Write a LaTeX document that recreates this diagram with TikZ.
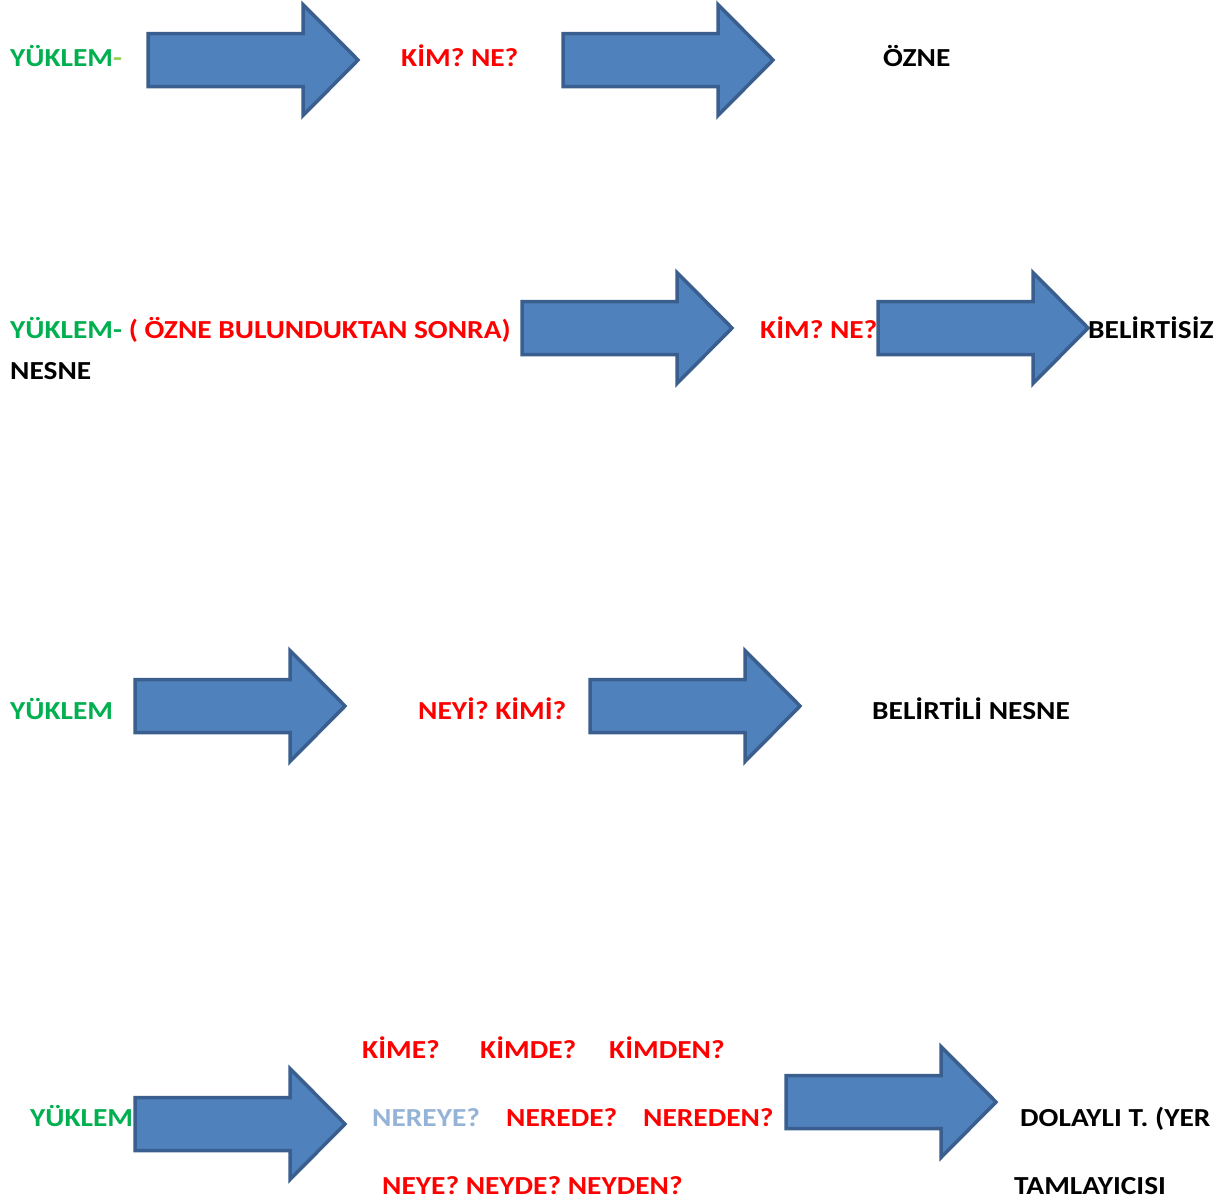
\documentclass[tikz,border=0pt]{standalone}
\usepackage{fontspec}
\setmainfont{Carlito}[FakeStretch=1.13]
\definecolor{kgreen}{HTML}{00B050}
\definecolor{lgreen}{HTML}{92D050}
\definecolor{kred}{HTML}{FF0000}
\definecolor{lblue}{HTML}{95B3D7}
\definecolor{afill}{HTML}{4F81BD}
\definecolor{aline}{HTML}{3A5F8F}
\begin{document}
\begin{tikzpicture}[x=1pt,y=-1pt,
  txt/.style={anchor=base west,inner sep=0pt,font=\fontsize{26}{30}\selectfont\bfseries},
  bigarr/.pic={\draw[fill=afill,draw=aline,line width=3.5pt,line join=miter]
    (0,-26.5) -- (155,-26.5) -- (155,-55.5) -- (210,0) -- (155,55.5) -- (155,26.5) -- (0,26.5) -- cycle;}]
\useasboundingbox (0,0) rectangle (1229,1203);
% row 1
\node[txt,text=kgreen] (y1) at (10,66.5) {YÜKLEM\textcolor{lgreen}{-}};
\pic (a1) at (148,60) {bigarr};
\node[txt,text=kred] (q1) at (401,66.5) {KİM? NE?};
\pic (a2) at (563,60) {bigarr};
\node[txt] (r1) at (883,66.5) {ÖZNE};
% row 2
\node[txt,text=kgreen] (y2) at (10,338.5) {YÜKLEM- \textcolor{kred}{( ÖZNE BULUNDUKTAN SONRA)}};
\node[txt] (n2) at (10,379.5) {NESNE};
\pic (a3) at (522,328) {bigarr};
\node[txt,text=kred] (q2) at (760,338.5) {KİM? NE?};
\pic (a4) at (878,328) {bigarr};
\node[txt] (r2) at (1088,338.5) {BELİRTİSİZ};
% row 3
\node[txt,text=kgreen] (y3) at (10,719.5) {YÜKLEM};
\pic (a5) at (135,706) {bigarr};
\node[txt,text=kred] (q3) at (418,719.5) {NEYİ? KİMİ?};
\pic (a6) at (590,706) {bigarr};
\node[txt] (r3) at (872,719.5) {BELİRTİLİ NESNE};
% row 4
\node[txt,text=kred] (k1) at (362,1058.5) {KİME?};
\node[txt,text=kred] (k2) at (480,1058.5) {KİMDE?};
\node[txt,text=kred] (k3) at (609,1058.5) {KİMDEN?};
\node[txt,text=kgreen] (y4) at (30,1126.5) {YÜKLEM};
\pic (a7) at (135,1124) {bigarr};
\node[txt,text=lblue] (n1) at (372,1126.5) {NEREYE?};
\node[txt,text=kred] (n2b) at (506,1126.5) {NEREDE?};
\node[txt,text=kred] (n3) at (643,1126.5) {NEREDEN?};
\pic (a8) at (786,1102) {bigarr};
\node[txt] (r4) at (1020,1126.5) {DOLAYLI T. (YER};
\node[txt,text=kred] (e4) at (382,1194.5) {NEYE? NEYDE? NEYDEN?};
\node[txt] (t4) at (1014,1194.5) {TAMLAYICISI};
\end{tikzpicture}
\end{document}
